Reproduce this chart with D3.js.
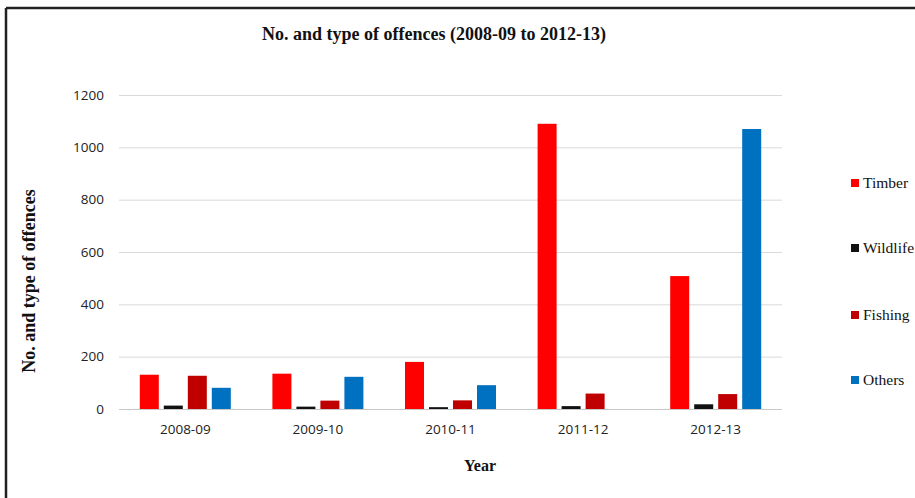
<!DOCTYPE html>
<html>
<head>
<meta charset="utf-8">
<script src="https://cdn.jsdelivr.net/npm/d3@7"></script>
<style>
  html, body { margin: 0; padding: 0; background: #fff; }
  svg { display: block; }
</style>
</head>
<body>
<svg id="chart" width="915" height="498"></svg>
<script>
// Offence counts by year and type
const years = ["2008-09", "2009-10", "2010-11", "2011-12", "2012-13"];
const seriesNames = ["Timber", "Wildlife", "Fishing", "Others"];
const timber   = [131, 135, 180, 1090, 508];
const wildlife = [13, 9, 7, 11, 18];
const fishing  = [127, 32, 33, 59, 57];
const others   = [81, 123, 91, 0, 1070];
const yTicks   = [0, 200, 400, 600, 800, 1000, 1200];
const colors   = ["#ff0000", "#111111", "#c00000", "#0070c0"];

const seriesValues = [timber, wildlife, fishing, others];

const svg = d3.select("#chart");
const W = 915, H = 498;
const plot = { left: 119, right: 782, top: 95, bottom: 409 };
const serif = "'Liberation Serif', 'Times New Roman', serif";
const sans = "'Open Sans', sans-serif";

// Outer frame (top and left edges)
svg.append("line").attr("x1", 6).attr("x2", W).attr("y1", 8).attr("y2", 8)
  .attr("stroke", "#222").attr("stroke-width", 2.5);
svg.append("line").attr("x1", 6).attr("x2", 6).attr("y1", 8).attr("y2", H)
  .attr("stroke", "#222").attr("stroke-width", 2.5);

const x0 = d3.scaleBand().domain(years).range([plot.left, plot.right]);
const barW = 19, barStep = 24;
const y = d3.scaleLinear().domain([0, 1200]).range([plot.bottom, plot.top]);

// Gridlines
svg.append("g").selectAll("line").data(yTicks.filter(t => t > 0)).join("line")
  .attr("x1", plot.left).attr("x2", plot.right)
  .attr("y1", d => y(d) + 0.5).attr("y2", d => y(d) + 0.5)
  .attr("stroke", "#d9d9d9").attr("stroke-width", 1);

// Y-axis tick labels
const yAxis = d3.axisLeft(y).tickValues(yTicks).tickFormat(d3.format("d")).tickSize(0).tickPadding(0);
const gy = svg.append("g").attr("transform", `translate(${plot.left - 15},0)`).call(yAxis);
gy.select(".domain").remove();
gy.selectAll("text").attr("font-family", sans).attr("font-size", 13.5).attr("fill", "#222");

// Bars
const groups = svg.append("g").selectAll("g").data(years).join("g")
  .attr("transform", d => `translate(${x0(d) + x0.bandwidth() / 2},0)`);
groups.selectAll("rect")
  .data((d, i) => seriesValues.map((vals, s) => ({ s, v: vals[i] })))
  .join("rect")
  .attr("x", d => (d.s - 1.5) * barStep - barW / 2)
  .attr("width", barW)
  .attr("y", d => y(d.v))
  .attr("height", d => y(0) - y(d.v))
  .attr("fill", d => colors[d.s]);

// Baseline
svg.append("line").attr("x1", plot.left).attr("x2", plot.right)
  .attr("y1", y(0) + 0.5).attr("y2", y(0) + 0.5)
  .attr("stroke", "#c8c8c8").attr("stroke-width", 1);

// X-axis tick labels
const xAxis = d3.axisBottom(x0).tickSize(0).tickPadding(0);
const gx = svg.append("g").attr("transform", `translate(0,${plot.bottom + 15})`).call(xAxis);
gx.select(".domain").remove();
gx.selectAll("text").attr("font-family", sans).attr("font-size", 13.5)
  .attr("fill", "#222").attr("dy", "0.71em");

// Titles
svg.append("text").attr("x", 434).attr("y", 40).attr("text-anchor", "middle")
  .attr("font-family", serif).attr("font-weight", "bold")
  .attr("font-size", 18).attr("fill", "#111")
  .text("No. and type of offences (2008-09 to 2012-13)");

svg.append("text").attr("x", 480).attr("y", 471).attr("text-anchor", "middle")
  .attr("font-family", serif).attr("font-weight", "bold")
  .attr("font-size", 16).attr("fill", "#111").text("Year");

svg.append("text").attr("transform", "translate(35,281) rotate(-90)").attr("text-anchor", "middle")
  .attr("font-family", serif).attr("font-weight", "bold")
  .attr("font-size", 18).attr("fill", "#111").text("No. and type of offences");

// Legend
const legendY = [183, 248, 315, 380];
const lg = svg.append("g").selectAll("g").data(seriesNames).join("g")
  .attr("transform", (d, i) => `translate(851,${legendY[i]})`);
lg.append("rect").attr("x", 0).attr("y", -4).attr("width", 8).attr("height", 8)
  .attr("fill", (d, i) => colors[i]);
lg.append("text").attr("x", 12).attr("y", 0).attr("dy", "0.35em")
  .attr("font-family", serif).attr("font-size", 15.5).attr("fill", "#111").text(d => d);
</script>
</body>
</html>
